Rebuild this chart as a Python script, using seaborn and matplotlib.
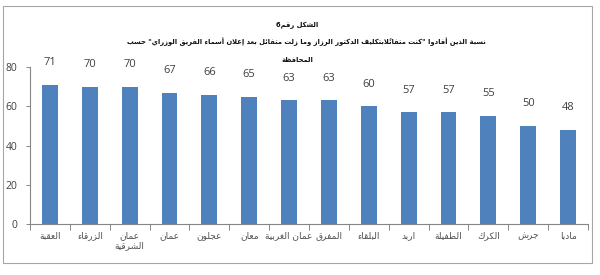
import matplotlib
matplotlib.use("Agg")
import matplotlib.pyplot as plt
import seaborn as sns
import pandas as pd
from matplotlib.patches import Rectangle
from matplotlib.ticker import FixedLocator
from matplotlib import font_manager

# ---------------- data ----------------
governorates = ["العقبة", "الزرقاء", "عمان\nالشرقية", "عمان", "عجلون", "معان",
                "عمان الغربية", "المفرق", "البلقاء", "اربد", "الطفيلة", "الكرك",
                "جرش", "مادبا"]
percentages = [71, 70, 70, 67, 66, 65, 63, 63, 60, 57, 57, 55, 50, 48]
y_ticks = [0, 20, 40, 60, 80]
title_lines = [
    "الشكل رقم6",
    "نسبة الذين أفادوا \"كنت متفائلاًبتكليف الدكتور الرزاز وما زلت متفائل بعد إعلان أسماء الفريق الوزراي\" حسب",
    "المحافظة",
]

# ---------------- minimal Arabic shaping + RTL ordering ----------------
DUAL = {'ئ': 0xFE89, 'ب': 0xFE8F, 'ت': 0xFE95, 'ث': 0xFE99, 'ج': 0xFE9D, 'ح': 0xFEA1,
        'خ': 0xFEA5, 'س': 0xFEB1, 'ش': 0xFEB5, 'ص': 0xFEB9, 'ض': 0xFEBD, 'ط': 0xFEC1,
        'ظ': 0xFEC5, 'ع': 0xFEC9, 'غ': 0xFECD, 'ف': 0xFED1, 'ق': 0xFED5, 'ك': 0xFED9,
        'ل': 0xFEDD, 'م': 0xFEE1, 'ن': 0xFEE5, 'ه': 0xFEE9, 'ي': 0xFEF1}
RIGHT = {'آ': 0xFE81, 'أ': 0xFE83, 'ؤ': 0xFE85, 'إ': 0xFE87, 'ا': 0xFE8D, 'ة': 0xFE93,
         'د': 0xFEA9, 'ذ': 0xFEAB, 'ر': 0xFEAD, 'ز': 0xFEAF, 'و': 0xFEED, 'ى': 0xFEEF}
NONE = {'ء': 0xFE80}
LAMALEF = {'آ': 0xFEF5, 'أ': 0xFEF7, 'إ': 0xFEF9, 'ا': 0xFEFB}


def is_mark(c):
    return 0x064B <= ord(c) <= 0x0652


def shape_line(s):
    toks = []
    i = 0
    while i < len(s):
        c = s[i]
        if is_mark(c):
            if toks:
                toks[-1][2] += c
            i += 1
            continue
        if c == 'ل' and i + 1 < len(s) and s[i + 1] in LAMALEF:
            toks.append([LAMALEF[s[i + 1]], 'R', ''])
            i += 2
            continue
        if c in DUAL:
            toks.append([DUAL[c], 'D', ''])
        elif c in RIGHT:
            toks.append([RIGHT[c], 'R', ''])
        elif c in NONE:
            toks.append([NONE[c], 'U', ''])
        else:
            toks.append([c, 'N', ''])
        i += 1
    out = []
    for k, (b, t, m) in enumerate(toks):
        if t in ('N', 'U'):
            out.append((chr(b) if t == 'U' else b) + m)
            continue
        prev_j = k > 0 and toks[k - 1][1] == 'D'
        next_j = t == 'D' and k + 1 < len(toks) and toks[k + 1][1] in ('D', 'R')
        if t == 'D':
            off = 3 if (prev_j and next_j) else 2 if next_j else 1 if prev_j else 0
        else:
            off = 1 if prev_j else 0
        out.append(chr(b + off) + m)
    rev = out[::-1]
    res = []
    run = []
    for cl in rev:
        if cl.isascii() and cl.isalnum():
            run.append(cl)
        else:
            if run:
                res.extend(run[::-1])
                run = []
            res.append(cl)
    if run:
        res.extend(run[::-1])
    return ''.join(res)


def ar(s):
    return '\n'.join(shape_line(l) for l in s.split('\n'))


# ---------------- plot ----------------
sns.set_style("white")
plt.rcParams['font.family'] = ['DejaVu Sans']

installed = {f.name for f in font_manager.fontManager.ttflist}
title_family = (['DejaVu Sans Condensed', 'DejaVu Sans']
                if 'DejaVu Sans Condensed' in installed else ['DejaVu Sans'])
cond = title_family[0] == 'DejaVu Sans Condensed'
tsize = 5.4 if cond else 4.9

df = pd.DataFrame({"gov": [ar(g) for g in governorates], "pct": percentages})

fig = plt.figure(figsize=(6, 2.75), dpi=100)
ax = fig.add_axes([0.05, 0.1855, 0.93, 0.5705])

sns.barplot(data=df, x="gov", y="pct", color="#4F81BD", width=0.4,
            saturation=1, ax=ax, edgecolor="none")

ax.set_ylim(0, 80)
ax.set_xlim(-0.5, len(governorates) - 0.5)
ax.set_yticks(y_ticks)
ax.set_yticklabels([str(v) for v in y_ticks], fontsize=7.5, color="#404040",
                   family="Open Sans")
ax.set_xlabel("")
ax.set_ylabel("")
ax.tick_params(axis='x', which='major', length=0, pad=5, labelsize=6.5,
               labelcolor="#505050")
ax.xaxis.set_minor_locator(FixedLocator([i - 0.5 for i in range(len(governorates) + 1)]))
ax.tick_params(axis='x', which='minor', length=4, width=0.7, color="#868686",
               direction='out', bottom=True)
ax.tick_params(axis='y', which='major', length=3, width=0.7, color="#868686",
               direction='out', left=True, pad=6)

for side in ("top", "right"):
    ax.spines[side].set_visible(False)
for side in ("left", "bottom"):
    ax.spines[side].set_color("#868686")
    ax.spines[side].set_linewidth(0.8)

for i, v in enumerate(percentages):
    ax.annotate(str(v), (i, v), xytext=(0, 12), textcoords="offset points",
                ha="center", va="bottom", fontsize=8, color="#404040",
                family="Open Sans")

# titles
fig.text(0.495, 0.909, ar(title_lines[0]), ha="center", va="center",
         fontsize=tsize, fontweight="bold", color="#111111", family=title_family)
fig.text(0.51, 0.847, ar(title_lines[1]), ha="center", va="center",
         fontsize=tsize, fontweight="bold", color="#111111", family=title_family)
fig.text(0.495, 0.782, ar(title_lines[2]), ha="center", va="center",
         fontsize=tsize, fontweight="bold", color="#111111", family=title_family)

# outer frame
fig.patches.append(Rectangle((0.005, 0.0436), 0.982, 0.9344, transform=fig.transFigure,
                             fill=False, edgecolor="#A6A6A6", linewidth=0.8))

fig.savefig("out.png", dpi=100, facecolor="white")
